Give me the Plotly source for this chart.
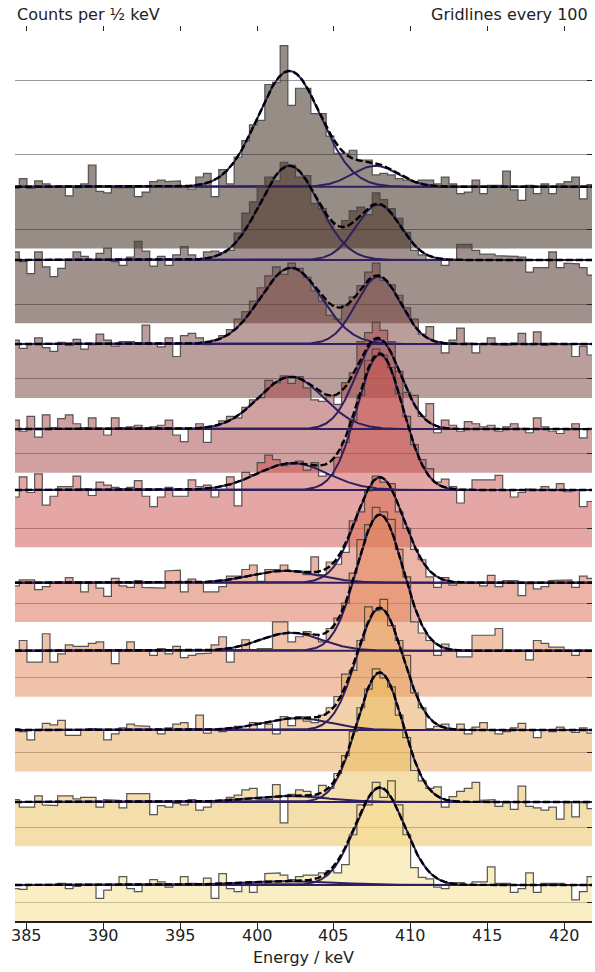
import numpy as np
import plotly.graph_objects as go

# ---------------- data ----------------
bin_start = 384.0
bin_width = 0.5
n_bins = 76

p1_counts = [55, 68, 55, 65, 61, 57, 57, 45, 56, 61,
             86, 51, 49, 56, 56, 56, 44, 50, 64, 66,
             64, 65, 57, 54, 70, 75, 44, 80, 61, 97,
             119, 140, 146, 194, 197, 246, 166, 189, 189, 155,
             155, 125, 102, 102, 106, 93, 93, 73, 75, 73,
             68, 66, 64, 66, 66, 61, 70, 61, 48, 50,
             66, 48, 59, 59, 78, 53, 39, 59, 48, 61,
             48, 61, 64, 70, 41, 60]
p2_counts = [70, 57, 41, 70, 50, 37, 48, 59, 70, 64,
             59, 68, 75, 57, 52, 63, 84, 71, 51, 64,
             52, 66, 77, 66, 59, 70, 71, 69, 72, 95,
             122, 137, 157, 170, 165, 190, 186, 170, 172, 135,
             128, 110, 100, 112, 125, 130, 120, 149, 140, 128,
             115, 96, 72, 66, 60, 60, 52, 60, 80, 80,
             72, 67, 67, 65, 64, 64, 63, 43, 49, 49,
             70, 49, 55, 54, 49, 39]
p3_counts = [52, 41, 47, 55, 42, 37, 49, 45, 53, 40,
             46, 60, 52, 44, 50, 50, 48, 72, 47, 43,
             55, 30, 58, 61, 55, 46, 52, 58, 66, 80,
             90, 104, 122, 138, 150, 140, 155, 148, 136, 118,
             104, 85, 80, 98, 110, 125, 143, 155, 132, 126,
             112, 95, 80, 60, 70, 50, 35, 52, 68, 48,
             35, 47, 55, 46, 45, 48, 61, 46, 63, 45,
             48, 47, 46, 30, 44, 32]
p4_counts = [45, 30, 50, 22, 52, 35, 47, 52, 40, 35,
             48, 33, 25, 48, 35, 36, 38, 34, 36, 38,
             45, 25, 16, 33, 40, 15, 37, 44, 50, 48,
             62, 72, 75, 98, 95, 104, 94, 103, 88, 72,
             70, 78, 66, 95, 108, 150, 162, 176, 165, 150,
             110, 82, 78, 50, 67, 28, 45, 38, 30, 43,
             40, 36, 38, 30, 36, 40, 34, 28, 48, 36,
             30, 27, 32, 40, 21, 34]
p5_counts = [42, 69, 48, 73, 31, 43, 56, 56, 70, 53,
             44, 62, 58, 55, 53, 55, 64, 43, 29, 42,
             55, 43, 43, 65, 56, 58, 42, 51, 69, 30,
             75, 72, 88, 98, 92, 84, 86, 90, 78, 88,
             70, 72, 95, 115, 145, 178, 225, 240, 232, 215,
             180, 150, 112, 92, 80, 62, 66, 56, 34, 52,
             65, 65, 65, 71, 51, 42, 48, 53, 52, 56,
             51, 60, 49, 52, 29, 36]
p6_counts = [23, 31, 31, 18, 22, 27, 27, 34, 27, 15,
             27, 20, 9, 33, 23, 21, 30, 21, 21, 20,
             43, 44, 15, 32, 27, 15, 15, 22, 36, 36,
             45, 51, 29, 45, 45, 51, 43, 43, 38, 62,
             38, 55, 52, 68, 110, 122, 150, 170, 162, 160,
             122, 100, 72, 58, 35, 21, 34, 24, 27, 28,
             27, 23, 37, 22, 30, 30, 10, 26, 19, 22,
             30, 31, 31, 21, 36, 33]
p7_counts = [37, 50, 21, 21, 59, 21, 32, 44, 42, 42,
             46, 48, 36, 19, 36, 48, 36, 36, 30, 39,
             32, 42, 27, 30, 32, 33, 44, 55, 21, 36,
             51, 37, 39, 39, 75, 75, 48, 55, 62, 58,
             48, 66, 80, 100, 140, 185, 205, 228, 222, 212,
             172, 135, 75, 60, 50, 30, 45, 36, 28, 28,
             57, 57, 57, 66, 37, 37, 36, 24, 50, 46,
             41, 41, 36, 30, 37, 36]
p8_counts = [32, 28, 17, 30, 39, 37, 43, 23, 23, 30,
             32, 30, 17, 25, 33, 38, 36, 35, 30, 25,
             33, 38, 40, 32, 50, 26, 30, 28, 30, 35,
             30, 40, 30, 38, 25, 48, 36, 48, 42, 40,
             50, 60, 75, 105, 110, 150, 195, 190, 205, 170,
             150, 130, 80, 60, 32, 35, 38, 30, 38, 25,
             34, 40, 30, 25, 28, 33, 39, 30, 20, 30,
             28, 34, 30, 27, 33, 26]
p9_counts = [37, 27, 27, 42, 30, 29, 42, 42, 38, 40,
             40, 27, 37, 36, 26, 45, 45, 45, 17, 29,
             27, 32, 30, 37, 23, 27, 33, 34, 40, 43,
             50, 52, 37, 37, 57, 6, 44, 50, 48, 42,
             56, 52, 72, 96, 128, 160, 185, 212, 200, 188,
             150, 120, 76, 62, 52, 54, 27, 41, 48, 52,
             60, 36, 37, 28, 33, 24, 55, 28, 26, 23,
             27, 11, 33, 14, 33, 25]
p10_counts = [18, 17, 23, 23, 23, 23, 25, 18, 21, 23,
              23, 5, 16, 23, 34, 18, 14, 23, 30, 27,
              20, 23, 34, 25, 23, 32, 5, 38, 18, 14,
              23, 13, 23, 38, 39, 36, 30, 34, 36, 36,
              39, 42, 39, 50, 90, 130, 130, 160, 140, 162,
              130, 90, 46, 33, 31, 20, 18, 26, 26, 23,
              27, 27, 47, 25, 25, 13, 18, 39, 13, 25,
              24, 25, 23, 3, 14, 34]

spectra = [p1_counts, p2_counts, p3_counts, p4_counts, p5_counts,
           p6_counts, p7_counts, p8_counts, p9_counts, p10_counts]

# fitted model parameters (background + two gaussians)
background = [57.2, 59.2, 46.7, 32.9, 51.4, 27.3, 36.3, 30.1, 33.9, 22.8]
peak1_amp = [155, 126, 102, 70, 36, 16, 24, 16, 8, 5]
peak1_centre = [402.1, 402.1, 402.2, 402.2, 402.3, 401.8, 402.2, 402.6, 402.0, 402.0]
peak1_sigma = [2.05, 1.9, 2.0, 2.1, 2.3, 2.2, 2.0, 2.2, 2.5, 3.0]
peak2_amp = [28, 74, 90, 120, 181, 141, 182, 163, 173, 130]
peak2_centre = [407.7, 407.9, 407.9, 407.9, 408.0, 408.0, 408.0, 408.0, 408.0, 408.0]
peak2_sigma = [1.5, 1.45, 1.45, 1.45, 1.5, 1.55, 1.5, 1.5, 1.5, 1.6]

# fill colours (drawn with alpha)
fill_rgb = [(45, 29, 13), (65, 35, 25), (115, 61, 57), (163, 65, 65), (203, 79, 75),
            (217, 105, 77), (225, 133, 85), (231, 163, 85), (233, 189, 89), (245, 221, 137)]
fill_alpha = 0.5

spacing = 100
floor_below = 25.4
x_ticks = [385, 390, 395, 400, 405, 410, 415, 420]
x_range = [384.22, 421.82]
y_range = [-25.4, 1172.3]
grid_vals = list(range(0, 1200, 100))

line_purple = '#2f1f5f'

# ---------------- figure ----------------
edges = bin_start + bin_width * np.arange(n_bins + 1)
xs = np.linspace(x_range[0], x_range[1], 800)

fig = go.Figure()
n = len(spectra)

def gauss(x, a, m, s):
    return a * np.exp(-(x - m) ** 2 / (2 * s * s))

# fills
for k in range(n):
    off = (n - 1 - k) * spacing
    c = np.asarray(spectra[k], dtype=float) + off
    sx = np.repeat(edges, 2)[1:-1]
    sy = np.repeat(c, 2)
    floor = off - floor_below
    px = np.concatenate([[edges[0]], sx, [edges[-1]]])
    py = np.concatenate([[floor], sy, [floor]])
    r, g, b = fill_rgb[k]
    fig.add_trace(go.Scatter(x=px, y=py, mode='lines', fill='toself',
                             fillcolor=f'rgba({r},{g},{b},{fill_alpha})',
                             line=dict(width=0), hoverinfo='skip', showlegend=False))

# outlines and fits
for k in range(n):
    off = (n - 1 - k) * spacing
    c = np.asarray(spectra[k], dtype=float) + off
    sx = np.repeat(edges, 2)
    sy = np.concatenate([[off - floor_below], np.repeat(c, 2), [off - floor_below]])
    fig.add_trace(go.Scatter(x=sx, y=sy, mode='lines',
                             line=dict(color='rgba(70,70,70,0.9)', width=1.2),
                             hoverinfo='skip', showlegend=False))
    bg = background[k] + off
    g1 = gauss(xs, peak1_amp[k], peak1_centre[k], peak1_sigma[k])
    g2 = gauss(xs, peak2_amp[k], peak2_centre[k], peak2_sigma[k])
    for comp in (g1, g2, np.zeros_like(xs)):
        fig.add_trace(go.Scatter(x=xs, y=bg + comp, mode='lines',
                                 line=dict(color=line_purple, width=2),
                                 hoverinfo='skip', showlegend=False))
    fig.add_trace(go.Scatter(x=xs, y=bg + g1 + g2, mode='lines',
                             line=dict(color='black', width=2.4, dash='7px,3px'),
                             hoverinfo='skip', showlegend=False))

fig.add_trace(go.Scatter(x=[], y=[], xaxis='x2', showlegend=False))

font = dict(family='DejaVu Sans', size=16, color='#222')

annotations = [
    dict(text='Counts per ½ keV', xref='paper', yref='paper', x=0, y=1.0125,
         xanchor='left', yanchor='middle', showarrow=False, font=font),
    dict(text='Gridlines every 100', xref='paper', yref='paper', x=0.997, y=1.0125,
         xanchor='right', yanchor='middle', showarrow=False, font=font),
    dict(text='Energy / keV', xref='paper', yref='paper', x=0.5, y=-0.0405,
         xanchor='center', yanchor='middle', showarrow=False, font=font),
]
for t in x_ticks:
    annotations.append(dict(text=str(t), xref='x', yref='paper', x=t, y=-0.0158,
                            xanchor='center', yanchor='middle', showarrow=False, font=font))

fig.update_layout(
    width=595, height=972,
    margin=dict(l=15, r=3, t=26, b=51),
    paper_bgcolor='white', plot_bgcolor='white',
    showlegend=False,
    font=font,
    xaxis=dict(range=x_range, tickvals=x_ticks, ticks='outside', ticklen=6,
               tickwidth=1, tickcolor='#222', showline=True, linecolor='#222',
               linewidth=1.5, showgrid=False, zeroline=False,
               showticklabels=False),
    xaxis2=dict(range=x_range, overlaying='x', side='top', anchor='y',
                tickvals=x_ticks, ticks='inside', ticklen=5, tickcolor='#222',
                showticklabels=False, showgrid=False, showline=False, zeroline=False),
    yaxis=dict(range=y_range, side='right', tickvals=grid_vals, ticks='inside',
               ticklen=5, tickcolor='#222', showticklabels=False,
               showgrid=True, gridcolor='#9a9a9a', gridwidth=1,
               showline=False, zeroline=False),
    annotations=annotations,
)

fig.write_html('out.html')
